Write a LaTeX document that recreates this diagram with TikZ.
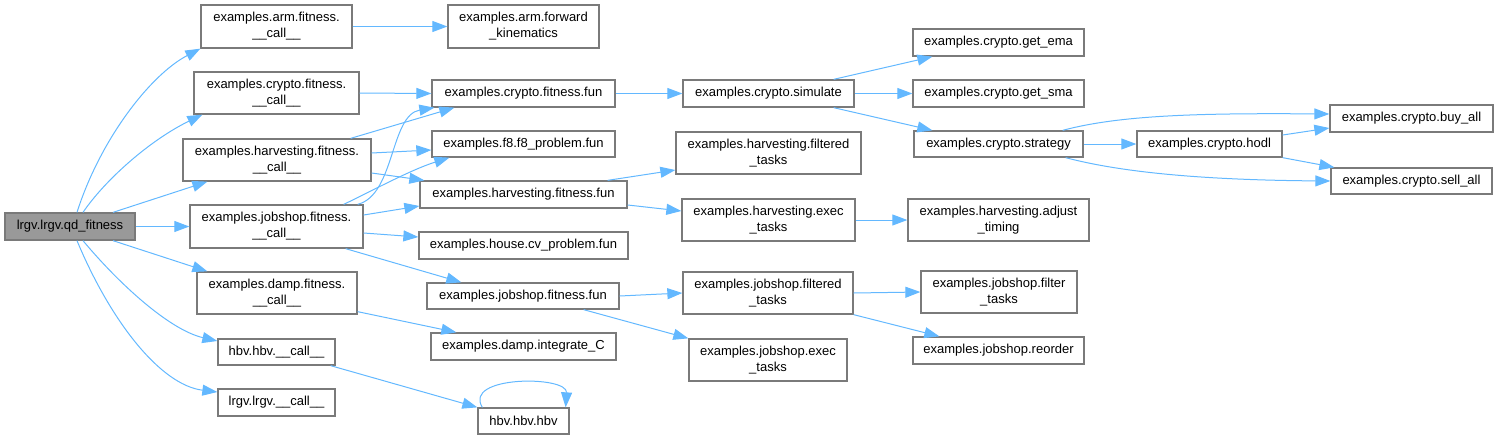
\documentclass[tikz,border=0pt]{standalone}
\usepackage{fontspec}
\setmainfont{Liberation Sans}
\usetikzlibrary{arrows.meta}
\definecolor{edgeblue}{HTML}{63B8FF}
\definecolor{boxgray}{HTML}{7A7A7A}
\definecolor{rootfill}{HTML}{999999}
\tikzset{
  box/.style={draw=boxgray, line width=1.3pt, fill=white, inner sep=0pt, align=center,
    font=\fontsize{13}{16}\selectfont},
  rootbox/.style={box, fill=rootfill},
  edge/.style={draw=edgeblue, line width=1pt, -{Triangle[length=15pt,width=11pt]}}
}
\begin{document}
\begin{tikzpicture}[x=1pt,y=-1pt]
\useasboundingbox (0,0) rectangle (1498,440);
% column 0
\node[rootbox, minimum width=130pt, minimum height=27pt] (lq) at (70,226.5) {lrgv.lrgv.qd\_fitness};
% column 1
\node[box, minimum width=151pt, minimum height=43pt] (arm) at (276.5,26.5) {examples.arm.fitness.\\\_\_call\_\_};
\node[box, minimum width=165pt, minimum height=42pt] (cfc) at (276.5,93) {examples.crypto.fitness.\\\_\_call\_\_};
\node[box, minimum width=188pt, minimum height=42pt] (hfc) at (277,160) {examples.harvesting.fitness.\\\_\_call\_\_};
\node[box, minimum width=173pt, minimum height=43pt] (jfc) at (276.5,226.5) {examples.jobshop.fitness.\\\_\_call\_\_};
\node[box, minimum width=160pt, minimum height=42pt] (dfc) at (277,293) {examples.damp.fitness.\\\_\_call\_\_};
\node[box, minimum width=117pt, minimum height=26pt] (hbvc) at (276.5,352) {hbv.hbv.\_\_call\_\_};
\node[box, minimum width=117pt, minimum height=27pt] (lrgvc) at (276.5,402.5) {lrgv.lrgv.\_\_call\_\_};
% column 2
\node[box, minimum width=151pt, minimum height=43pt] (afk) at (523.5,26.5) {examples.arm.forward\\\_kinematics};
\node[box, minimum width=183pt, minimum height=27pt] (cff) at (523.5,93.5) {examples.crypto.fitness.fun};
\node[box, minimum width=183pt, minimum height=26pt] (f8) at (523.5,144) {examples.f8.f8\_problem.fun};
\node[box, minimum width=207pt, minimum height=27pt] (hff) at (523.5,194.5) {examples.harvesting.fitness.fun};
\node[box, minimum width=209pt, minimum height=27pt] (house) at (523.5,245.5) {examples.house.cv\_problem.fun};
\node[box, minimum width=192pt, minimum height=26pt] (jff) at (523,296) {examples.jobshop.fitness.fun};
\node[box, minimum width=185pt, minimum height=27pt] (dint) at (523.5,346.5) {examples.damp.integrate\_C};
\node[box, minimum width=91pt, minimum height=26pt] (hbv) at (523.5,421) {hbv.hbv.hbv};
% column 3
\node[box, minimum width=171pt, minimum height=27pt] (sim) at (768.5,93.5) {examples.crypto.simulate};
\node[box, minimum width=185pt, minimum height=42pt] (hft) at (768.5,153) {examples.harvesting.filtered\\\_tasks};
\node[box, minimum width=173pt, minimum height=42pt] (het) at (768.5,220) {examples.harvesting.exec\\\_tasks};
\node[box, minimum width=170pt, minimum height=42pt] (jft) at (768,293) {examples.jobshop.filtered\\\_tasks};
\node[box, minimum width=158pt, minimum height=42pt] (jet) at (768,360) {examples.jobshop.exec\\\_tasks};
% column 4
\node[box, minimum width=171pt, minimum height=27pt] (ema) at (998.5,42.5) {examples.crypto.get\_ema};
\node[box, minimum width=171pt, minimum height=27pt] (sma) at (998.5,93.5) {examples.crypto.get\_sma};
\node[box, minimum width=169pt, minimum height=26pt] (strat) at (998.5,144) {examples.crypto.strategy};
\node[box, minimum width=181pt, minimum height=42pt] (adj) at (998.5,220) {examples.harvesting.adjust\\\_timing};
\node[box, minimum width=156pt, minimum height=42pt] (filt) at (999,292) {examples.jobshop.filter\\\_tasks};
\node[box, minimum width=171pt, minimum height=27pt] (reord) at (998.5,350.5) {examples.jobshop.reorder};
% column 5
\node[box, minimum width=145pt, minimum height=26pt] (hodl) at (1209.5,144) {examples.crypto.hodl};
% column 6
\node[box, minimum width=163pt, minimum height=27pt] (buy) at (1411.5,118.5) {examples.crypto.buy\_all};
\node[box, minimum width=161pt, minimum height=26pt] (sell) at (1411.5,181) {examples.crypto.sell\_all};

% edges from root
\draw[edge] ([xshift=7pt]lq.north) .. controls (100,140) and (150,75) .. (arm.south west);
\draw[edge] ([xshift=13pt]lq.north) .. controls (105,180) and (150,140) .. ([xshift=9pt]cfc.south west);
\draw[edge] ([xshift=43pt]lq.north) -- ([xshift=25pt]hfc.south west);
\draw[edge] (lq.east) -- (jfc.west);
\draw[edge] ([xshift=43pt]lq.south) -- ([xshift=11pt]dfc.north west);
\draw[edge] ([xshift=13pt]lq.south) .. controls (120,285) and (170,330) .. ([yshift=11pt]hbvc.west);
\draw[edge] ([xshift=7pt]lq.south) .. controls (110,320) and (160,385) .. ([yshift=10.5pt]lrgvc.west);
% column 1 -> 2
\draw[edge] (arm.east) -- (afk.west);
\draw[edge] (cfc.east) -- (cff.west);
\draw[edge] ([xshift=-21pt]hfc.north east) -- ([xshift=23pt]cff.south west);
\draw[edge] ([xshift=-6pt]jfc.north east) .. controls (395,195) and (390,115) .. ([xshift=3pt]cff.south west);
\draw[edge] ([xshift=-20pt]jfc.north east) .. controls (370,192) and (410,170) .. ([xshift=18pt]f8.south west);
\draw[edge] ([yshift=7pt]hfc.east) -- ([yshift=-6pt]f8.west);
\draw[edge] ([yshift=-13pt]hfc.east) -- ([xshift=5pt]hff.north west);
\draw[edge] ([yshift=11.5pt]jfc.east) -- ([yshift=-11.5pt]hff.west);
\draw[edge] ([yshift=-6.5pt]jfc.east) -- ([yshift=8.5pt]house.west);
\draw[edge] ([xshift=-18pt]jfc.south east) -- ([xshift=35pt]jff.north west);
\draw[edge] ([yshift=3pt]dfc.south east) -- ([xshift=26pt]dint.north west);
\draw[edge] ([xshift=-5pt]hbvc.south east) -- (hbv.north west);
\draw[edge] ([xshift=5pt]hbv.north west) .. controls +(-20,-32) and +(2,-32) .. ([xshift=-4pt]hbv.north east);
% column 2 -> 3
\draw[edge] (cff.east) -- (sim.west);
\draw[edge] ([xshift=-20pt]hff.north east) -- ([yshift=-17pt]hft.west);
\draw[edge] ([yshift=-10.5pt]hff.east) -- ([yshift=9pt]het.west);
\draw[edge] (jff.east) -- (jft.west);
\draw[edge] ([xshift=-36pt]jff.south east) -- (jet.north west);
% column 3 -> 4
\draw[edge] ([xshift=-21pt]sim.north east) -- ([xshift=20pt]ema.south west);
\draw[edge] (sim.east) -- (sma.west);
\draw[edge] ([xshift=-21pt]sim.south east) -- ([xshift=19pt]strat.north west);
\draw[edge] (het.east) -- (adj.west);
\draw[edge] (jft.east) -- (filt.west);
\draw[edge] (jft.south east) -- ([xshift=27pt]reord.north west);
% column 4 -> 5/6
\draw[edge] ([xshift=-21pt]strat.north east) .. controls (1120,115) and (1200,113) .. ([yshift=4.5pt]buy.west);
\draw[edge] (strat.east) -- (hodl.west);
\draw[edge] ([xshift=-18pt]strat.south east) .. controls (1120,172) and (1200,180) .. (sell.west);
\draw[edge] ([yshift=9pt]hodl.east) -- ([yshift=-9.5pt]buy.west);
\draw[edge] (hodl.south east) -- ([xshift=4pt]sell.north west);
\end{tikzpicture}
\end{document}
